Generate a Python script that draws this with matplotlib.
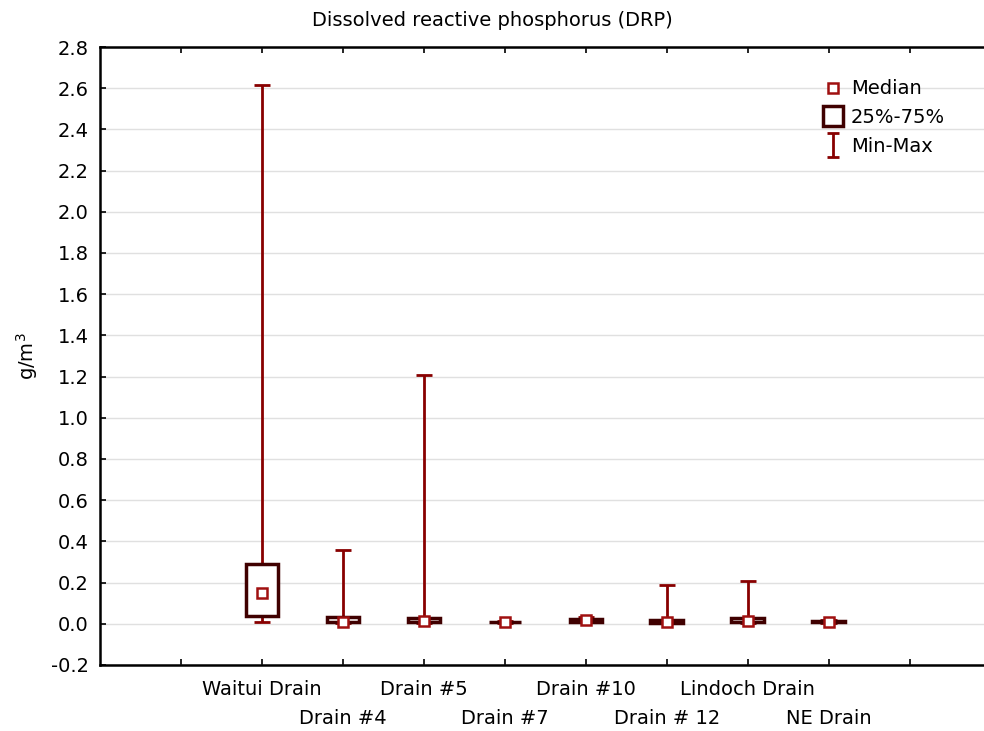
import matplotlib.pyplot as plt
import numpy as np
from matplotlib.lines import Line2D
from matplotlib.path import Path

plt.rcParams['font.family'] = ['DejaVu Sans']

# site names
sites = ['Waitui Drain', 'Drain #4', 'Drain #5', 'Drain #7', 'Drain #10',
         'Drain # 12', 'Lindoch Drain', 'NE Drain']
# summary stats (g/m3)
mins = [0.008, 0.005, 0.005, 0.005, 0.008, 0.005, 0.005, 0.005]
q1s = [0.038, 0.008, 0.010, 0.007, 0.010, 0.006, 0.008, 0.008]
medians = [0.150, 0.010, 0.012, 0.008, 0.020, 0.010, 0.012, 0.010]
q3s = [0.290, 0.033, 0.028, 0.009, 0.024, 0.018, 0.026, 0.015]
maxs = [2.615, 0.358, 1.210, 0.012, 0.032, 0.190, 0.207, 0.020]

whisk_col = '#880000'
box_col = '#400000'
med_col = '#a01010'

fig = plt.figure(figsize=(9.84, 7.31), dpi=100)
ax = fig.add_axes([0.1016, 0.0903, 0.8984, 0.8454])

x = np.arange(1, len(sites) + 1)

# whiskers + caps
ax.vlines(x, mins, maxs, color=whisk_col, lw=2, zorder=2)
ax.hlines(maxs, x - 0.1, x + 0.1, color=whisk_col, lw=2, zorder=2)
ax.hlines(mins, x - 0.1, x + 0.1, color=whisk_col, lw=2, zorder=2)
# boxes
ax.bar(x, np.array(q3s) - np.array(q1s), bottom=q1s, width=0.4,
       facecolor='white', edgecolor=box_col, lw=2.5, zorder=3)
# medians
ax.plot(x, medians, 's', ms=7, mfc='white', mec=med_col, mew=1.8, zorder=4)

ax.set_ylim(-0.2, 2.8)
ax.set_yticks(np.arange(-0.2, 2.81, 0.2))
ax.set_yticklabels(['%.1f' % v for v in np.arange(-0.2, 2.81, 0.2)])
ax.set_xlim(-1, 9.92)
# staggered labels: odd sites on major ticks, even sites on minor ticks
ax.set_xticks([0] + list(x[::2]) + [9])
ax.set_xticklabels([''] + sites[::2] + [''])
ax.set_xticks(x[1::2], minor=True)
ax.set_xticklabels(sites[1::2], minor=True)
ax.grid(axis='y', color='#e0e0e0', lw=1)
ax.set_axisbelow(True)

ax.tick_params(which='both', direction='in', length=4, width=1.2, labelsize=14,
               top=True, colors='black')
ax.tick_params(axis='x', which='major', pad=11)
ax.tick_params(axis='x', which='minor', pad=32)
ax.tick_params(axis='y', pad=8)
for s in ['left', 'bottom', 'top']:
    ax.spines[s].set_linewidth(1.8)
ax.spines['right'].set_visible(False)

ax.set_ylabel('g/m$^3$', fontsize=14)
ax.yaxis.set_label_coords(-0.068, 0.5)
fig.text(0.5, 0.972, 'Dissolved reactive phosphorus (DRP)', ha='center',
         va='center', fontsize=14)

# legend
ibeam = Path([(-0.5, 1), (0.5, 1), (0, 1), (0, -1), (-0.5, -1), (0.5, -1)],
             [Path.MOVETO, Path.LINETO, Path.MOVETO, Path.LINETO,
              Path.MOVETO, Path.LINETO])
handles = [
    Line2D([], [], ls='none', marker='s', ms=7, mfc='white', mec=med_col, mew=1.8),
    Line2D([], [], ls='none', marker='s', ms=15, mfc='white', mec=box_col, mew=2.5),
    Line2D([], [], ls='none', marker=ibeam, ms=17, mfc='none', mec=whisk_col, mew=2),
]
leg = ax.legend(handles, ['Median', '25%-75%', 'Min-Max'], loc='upper left',
                bbox_to_anchor=(0.798, 0.976), frameon=False, fontsize=14,
                handlelength=1.0, handletextpad=0.45, labelspacing=0.5)

fig.savefig('out.png', dpi=100)
